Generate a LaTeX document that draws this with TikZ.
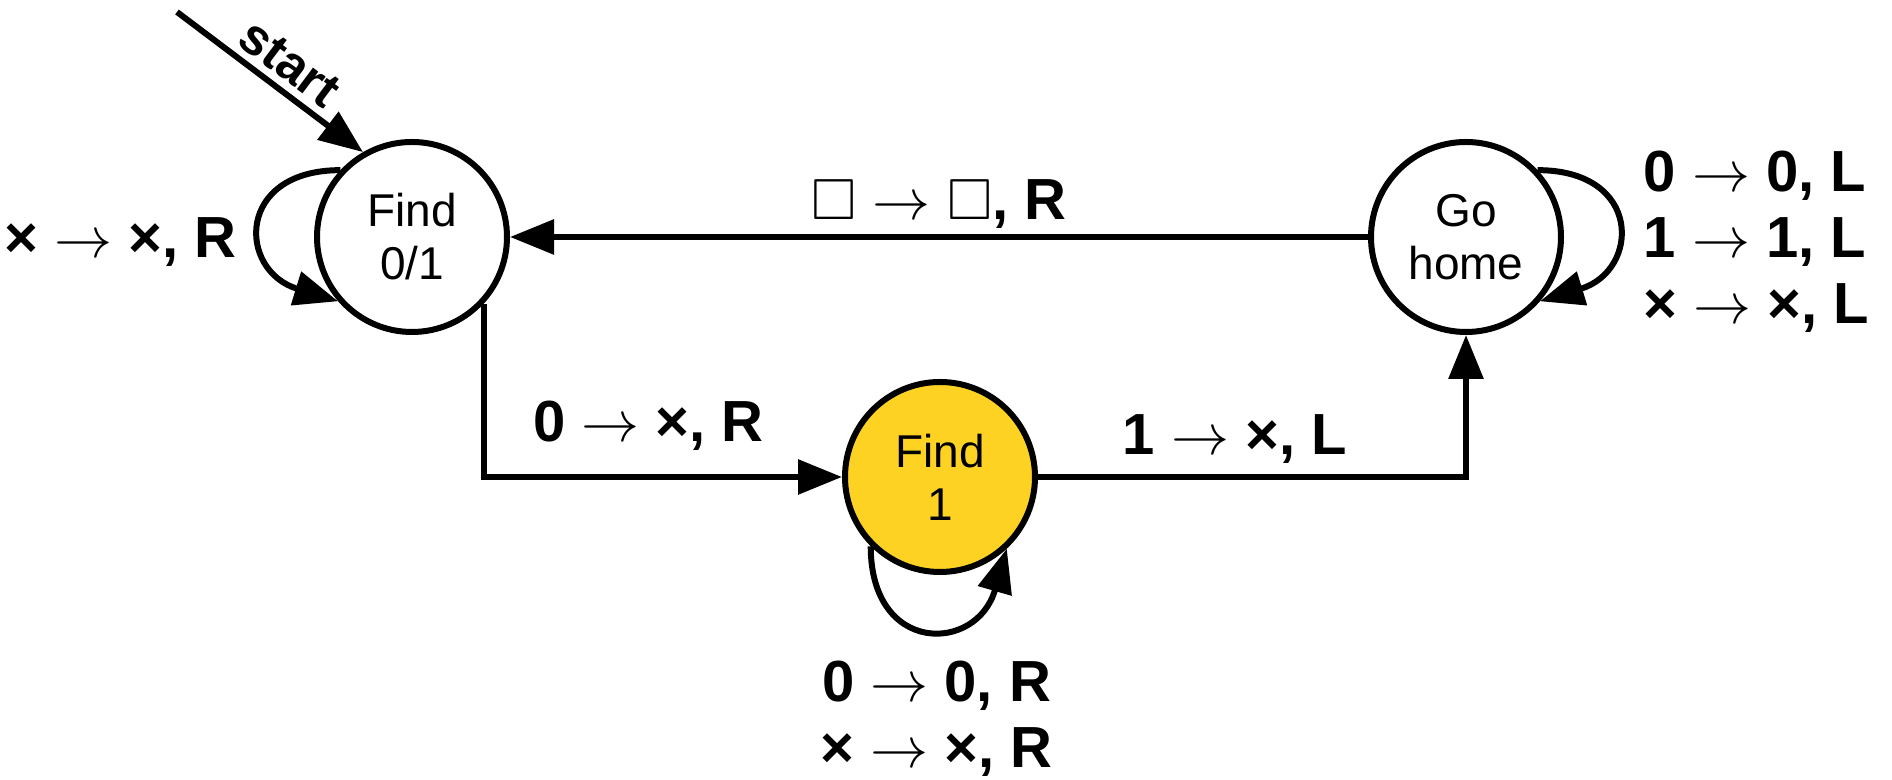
\documentclass[tikz,border=0pt]{standalone}
\usepackage{fix-cm}
\usepackage{amssymb}
\usepackage{fontspec}
\setmainfont{Liberation Sans}
\usetikzlibrary{arrows.meta,positioning}
\definecolor{tmyellow}{RGB}{254,210,34}

\begin{document}
\begin{tikzpicture}[x=0.5pt,y=0.5pt,
      state/.style={circle,draw,line width=3pt,minimum size=95pt,inner sep=0pt,align=center,font=\fontsize{23}{26.5}\selectfont},
      rule/.style={font=\bfseries\fontsize{29}{33}\selectfont,inner sep=0pt,align=center},
      tr/.style={line width=3pt,->},
      >={Triangle[length=22pt,width=17pt]}]
    \useasboundingbox (0,0) rectangle (1892,780);
    \node[state] (find01) at (412,543) {Find\\0/1};
    \node[state,fill=tmyellow] (find1) at (940,303) {Find\\1};
    \node[state] (home) at (1466,543) {Go\\home};
    \coordinate (init) at (177,768);
    \draw[tr] (init) -- node[sloped,above=3.5pt,pos=0.52,inner sep=0pt,font=\bfseries\fontsize{25.5}{28}\selectfont] {start} (find01.120);
    % self loops
    \draw[tr] (find01.137) .. controls +(180:105) and +(163:105) .. node[rule,left=13pt,pos=0.6] {× $\rightarrow$ ×, R} (find01.221);
    \draw[tr] (find1.225) .. controls +(270:109) and +(254:109) .. node[rule,below=15.5pt,pos=0.55] {0 $\rightarrow$ 0, R\\× $\rightarrow$ ×, R} (find1.-47);
    \draw[tr] (home.43) .. controls +(0:105) and +(17:105) .. node[rule,right=14pt,pos=0.6,align=left] {0 $\rightarrow$ 0, L\\1 $\rightarrow$ 1, L\\× $\rightarrow$ ×, L} (home.-41);
    % transitions
    \draw[tr] (home) -- node[rule,above=3pt] {$\square$ $\rightarrow$ $\square$, R} (find01);
    \draw[tr] (find01.-43) |- node[rule,above=12pt,pos=0.73] {0 $\rightarrow$ ×, R} (find1.west);
    \draw[tr] (find1.east) -| node[rule,above=5.5pt,pos=0.23] {1 $\rightarrow$ ×, L} (home.south);
\end{tikzpicture}
\end{document}
